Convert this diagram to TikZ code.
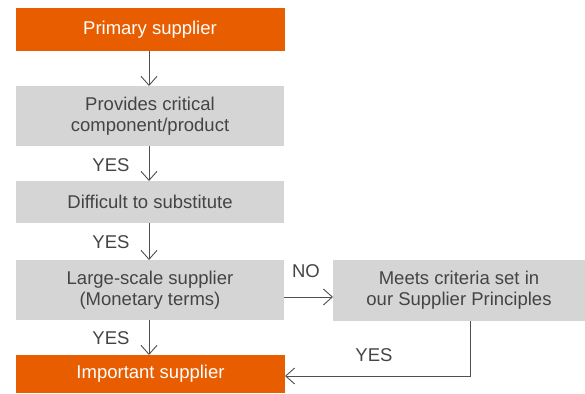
\documentclass[tikz,border=0pt]{standalone}
\usepackage{fontspec}
\setmainfont{Liberation Sans}
\usetikzlibrary{arrows.meta}
\definecolor{org}{RGB}{232,93,0}
\definecolor{gbox}{RGB}{213,213,213}
\definecolor{txt}{RGB}{68,68,68}
\definecolor{ln}{RGB}{80,80,80}
\begin{document}
\begin{tikzpicture}[x=1pt,y=-1pt,
  every node/.style={font=\fontsize{18.5}{21}\selectfont, inner sep=0pt, outer sep=0pt},
  obox/.style={fill=org, text=white, minimum width=269pt, minimum height=43pt},
  gboxs/.style={fill=gbox, text=txt, align=center},
  lbl/.style={text=txt},
  conn/.style={draw=ln, line width=0.9pt, -{Straight Barb[length=9pt,width=16pt,line width=0.9pt]}}]
\useasboundingbox (0,0) rectangle (585,393);
\node[obox] (ps) at (150,30) {Primary supplier};
\node[gboxs, minimum width=268pt, minimum height=60pt] (pc) at (150,116) {Provides critical\\component/product};
\node[gboxs, minimum width=268pt, minimum height=42pt] (ds) at (150,202) {Difficult to substitute};
\node[gboxs, minimum width=268pt, minimum height=60pt] (ls) at (150,290) {Large-scale supplier\\(Monetary terms)};
\node[obox, minimum height=38pt] (is) at (150.5,374) {Important supplier};
\node[gboxs, minimum width=252pt, minimum height=61pt] (mc) at (459,290.5) {Meets criteria set in\\our Supplier Principles};
\draw[conn] (ps.south -| 149,0) -- (pc.north -| 149,0);
\draw[conn] (pc.south -| 149,0) -- (ds.north -| 149,0);
\draw[conn] (ds.south -| 149,0) -- (ls.north -| 149,0);
\draw[conn] (ls.south -| 149,0) -- (is.north -| 149,0);
\draw[conn] (ls.east |- 0,297) -- (mc.west |- 0,297);
\coordinate (c1) at (470,376);
\draw[conn] (mc.south -| c1) -- (c1) -- (is.east |- c1);
\node[lbl] (y1) at (111,165) {YES};
\node[lbl] (y2) at (111,242) {YES};
\node[lbl] (y3) at (111,338) {YES};
\node[lbl] (no) at (306,271) {NO};
\node[lbl] (y4) at (374,355) {YES};
\end{tikzpicture}
\end{document}
